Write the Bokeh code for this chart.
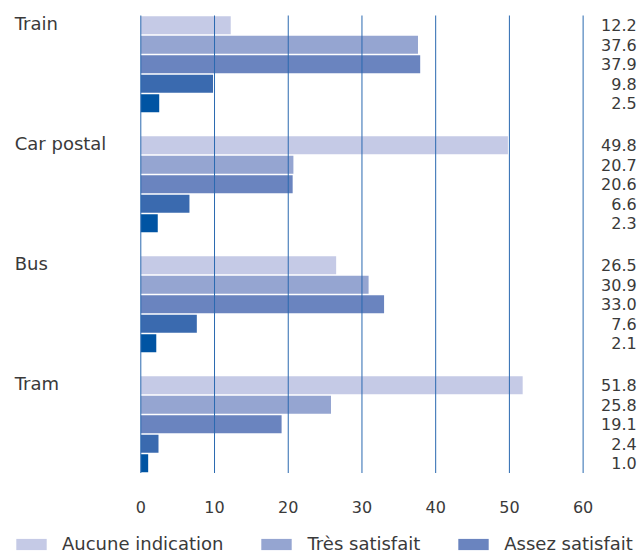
from bokeh.plotting import figure
from bokeh.models import Range1d, ColumnDataSource, FixedTicker, Legend, LegendItem
from bokeh.core.properties import value
from bokeh.embed import file_html
from bokeh.resources import INLINE

categories = ["Train", "Car postal", "Bus", "Tram"]
series = ["Aucune indication", "Très satisfait", "Assez satisfait", "Peu satisfait", "Pas du tout satisfait"]
colors = ["#c5cae6", "#95a5d1", "#6a84bf", "#3a6aaf", "#0054a3"]
values = {
    "Train":      [12.2, 37.6, 37.9, 9.8, 2.5],
    "Car postal": [49.8, 20.7, 20.6, 6.6, 2.3],
    "Bus":        [26.5, 30.9, 33.0, 7.6, 2.1],
    "Tram":       [51.8, 25.8, 19.1, 2.4, 1.0],
}
ticks = [0, 10, 20, 30, 40, 50, 60]
legend_shown = 3  # the legend row is cut at the right edge after three entries

FONT = "DejaVu Sans"
TXT = "#3a3a3a"

# layout (slot units: one bar row = 1)
n_ser = len(series)
gap = 1.154
pitch = n_ser + gap
bar_h = 0.92
y_bottom_bars = len(categories) * n_ser + (len(categories) - 1) * gap

W, H = 639, 554
px_per_unit_x = 7.372
x0 = -140.3 / px_per_unit_x
px_per_slot = 19.5
top_pad = 15

p = figure(output_backend="svg", toolbar_location=None, width=W, height=H,
           x_range=Range1d(x0, x0 + W / px_per_unit_x),
           y_range=Range1d(start=(H - top_pad) / px_per_slot, end=-top_pad / px_per_slot),
           y_axis_location=None,
           min_border_left=0, min_border_right=0, min_border_top=0, min_border_bottom=0)
p.outline_line_color = None
p.xgrid.visible = False
p.ygrid.visible = False

legend_items = []
for i, s in enumerate(series):
    ys = [g * pitch + i + 0.5 for g in range(len(categories))]
    vs = [values[c][i] for c in categories]
    src = ColumnDataSource(dict(y=ys, right=vs, lab=[f"{v:.1f}" for v in vs]))
    r = p.hbar(y="y", left=0, right="right", height=bar_h, source=src,
               fill_color=colors[i], line_color=None)
    if i < legend_shown:
        legend_items.append(LegendItem(label=s, renderers=[r]))
    p.text(x=67.27, y="y", text="lab", source=src, text_align="right",
           text_baseline="middle", text_font=value(FONT), text_font_size="16px",
           text_color=TXT)

# vertical grid lines drawn over the bars
p.segment(x0=ticks, x1=ticks, y0=[0] * len(ticks), y1=[y_bottom_bars] * len(ticks),
          line_color="#2a69b0", line_width=1)

cat_src = ColumnDataSource(dict(x=[-17.1] * len(categories),
                                y=[g * pitch + 0.4 for g in range(len(categories))],
                                t=categories))
p.text(x="x", y="y", text="t", source=cat_src, text_align="left", text_baseline="middle",
       text_font=value(FONT), text_font_size="18px", text_color=TXT)

xa = p.xaxis[0]
xa.ticker = FixedTicker(ticks=ticks)
xa.fixed_location = (496.5 - top_pad) / px_per_slot
xa.axis_line_color = None
xa.major_tick_line_color = None
xa.minor_tick_line_color = None
xa.major_tick_out = 0
xa.major_tick_in = 0
xa.major_label_standoff = 4
xa.major_label_text_font = FONT
xa.major_label_text_font_size = "16px"
xa.major_label_text_color = TXT

legend = Legend(items=legend_items, orientation="horizontal", location=(12, 0),
                glyph_width=38, glyph_height=14, label_standoff=12, spacing=34,
                padding=0, margin=0, border_line_color=None, background_fill_alpha=0,
                label_text_font=FONT, label_text_font_size="18px", label_text_color=TXT,
                label_height=20)
p.add_layout(legend)

open("out.html", "w").write(file_html(p, INLINE))
